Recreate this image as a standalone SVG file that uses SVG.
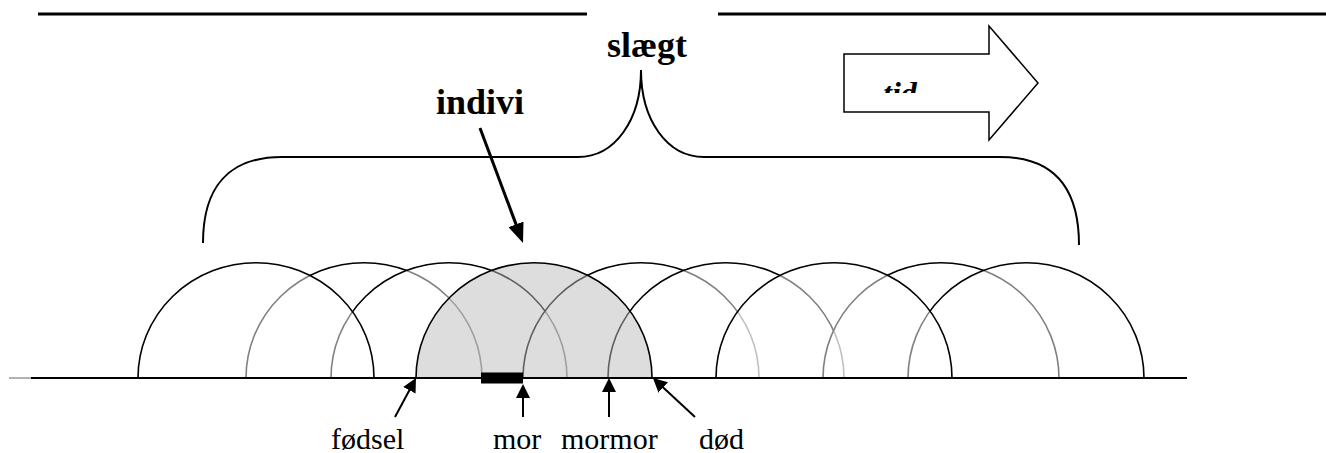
<svg xmlns="http://www.w3.org/2000/svg" width="1326" height="453" viewBox="0 0 1326 453">
<style>
.arc{stroke:#000;stroke-width:1.6;fill:#fff;fill-opacity:0.5}
.shade{stroke:#000;stroke-width:1.6;fill:#bbbbbb;fill-opacity:0.5}
.lbl{font-family:"Liberation Serif","Times New Roman",serif;font-size:30px;fill:#000}
.big{font-family:"Liberation Serif","Times New Roman",serif;font-size:36px;font-weight:bold;fill:#000}
.conn{stroke:#000;stroke-width:2;fill:none}
</style>
<defs>
<marker id="ah" markerWidth="14" markerHeight="14" refX="10" refY="7" orient="auto" markerUnits="userSpaceOnUse"><path d="M0,0 L14,7 L0,14 z" fill="#000"/></marker>
<marker id="ahb" markerWidth="20" markerHeight="16" refX="14" refY="8" orient="auto" markerUnits="userSpaceOnUse"><path d="M0,0 L20,8 L0,16 z" fill="#000"/></marker>
<clipPath id="tidclip"><rect x="844" y="54" width="145" height="39"/></clipPath>
</defs>
<rect width="1326" height="453" fill="#fff"/>
<g id="toplines">
<line x1="38" y1="14" x2="587" y2="14" stroke="#000" stroke-width="3"/>
<line x1="718" y1="14" x2="1326" y2="14" stroke="#000" stroke-width="3"/>
</g>
<g id="arcs">
<path id="arc2" class="arc" d="M246 378 A118 115.3 0 0 1 482 378"/>
<path id="arc3" class="arc" d="M331 378 A118 115.3 0 0 1 567 378"/>
<path id="arc1" class="arc" d="M138 378 A118 115.3 0 0 1 374 378"/>
<path id="arc5" class="arc" d="M523 378 A118 115.3 0 0 1 759 378"/>
<path id="arc6" class="arc" d="M608 378 A118 115.3 0 0 1 844 378"/>
<path id="arc4" class="shade" d="M416 378 A118 115.3 0 0 1 652 378"/>
<path id="arc8" class="arc" d="M823 378 A118 115.3 0 0 1 1059 378"/>
<path id="arc9" class="arc" d="M908 378 A118 115.3 0 0 1 1144 378"/>
<path id="arc7" class="arc" d="M716 378 A118 115.3 0 0 1 952 378"/>
</g>
<g id="baseline">
<line x1="9" y1="378" x2="31" y2="378" stroke="#666" stroke-width="1"/>
<line x1="31" y1="378" x2="1187" y2="378" stroke="#000" stroke-width="2"/>
<rect id="morbar" x="481" y="372.5" width="42" height="11" fill="#000"/>
</g>
<g id="brace">
<path class="conn" d="M203 243 C203 188 228 157 282 157 L578 157 C615 157 641 120 641 70 C641 120 667 157 704 157 L1000 157 C1054 157 1079 188 1079 245"/>
</g>
<g id="tid">
<polygon points="844,54 989,54 989,26 1038,83 989,140 989,112 844,112" fill="#fff" stroke="#000" stroke-width="1.5"/>
<text x="883" y="104" clip-path="url(#tidclip)" style="font-family:'Liberation Serif','Times New Roman',serif;font-size:32px;font-weight:bold;font-style:italic">tid</text>
</g>
<g id="titles">
<text id="slaegt" class="big" x="607" y="57">slægt</text>
<text id="indivi" class="big" x="436" y="114">indivi</text>
</g>
<g id="connectors">
<line class="conn" style="stroke-width:3" x1="480" y1="128" x2="520.9" y2="237.4" marker-end="url(#ahb)"/>
<line class="conn" x1="395" y1="417" x2="414.1" y2="381.5" marker-end="url(#ah)"/>
<line class="conn" x1="523" y1="417" x2="523" y2="388" marker-end="url(#ah)"/>
<line class="conn" x1="609" y1="417" x2="609" y2="382" marker-end="url(#ah)"/>
<line class="conn" x1="695" y1="417" x2="655.9" y2="380.7" marker-end="url(#ah)"/>
</g>
<g id="labels">
<text class="lbl" x="331" y="449">fødsel</text>
<text class="lbl" x="493" y="449">mor</text>
<text class="lbl" x="561" y="449">mormor</text>
<text class="lbl" x="699" y="449">død</text>
</g>
</svg>
